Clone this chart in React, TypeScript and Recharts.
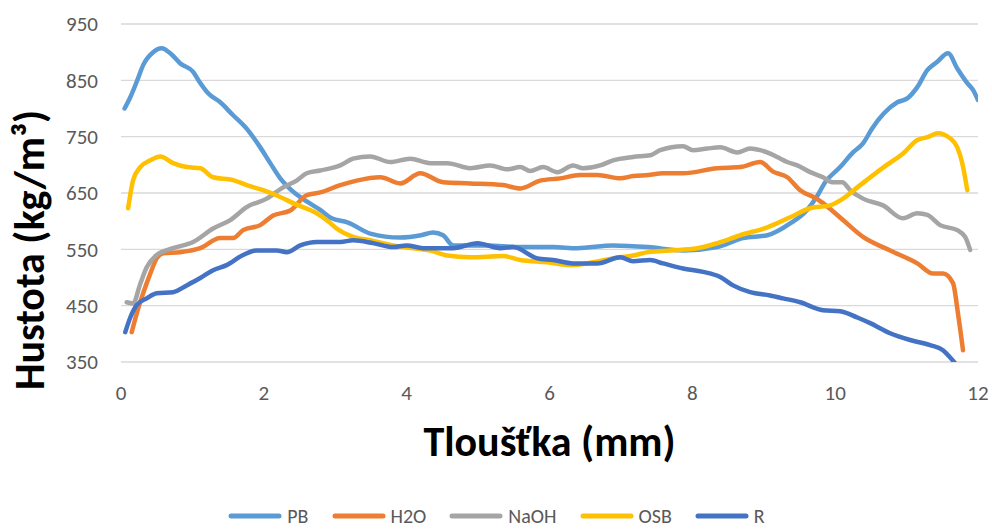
import React from 'react';
import { LineChart, Line, XAxis, YAxis, CartesianGrid, Legend } from 'recharts';

const FONT = 'Carlito, Lato, "Open Sans", sans-serif';

const X_TICKS = [0, 2, 4, 6, 8, 10, 12];
const Y_TICKS = [350, 450, 550, 650, 750, 850, 950];

const PB: number[][] = [
  [0.05, 800], [0.13, 820], [0.24, 854], [0.31, 877], [0.45, 900], [0.57, 907], [0.69, 898],
  [0.83, 880], [1.01, 865], [1.1, 847], [1.22, 827], [1.39, 811], [1.57, 788], [1.74, 767],
  [1.95, 731], [2.09, 703], [2.23, 676], [2.37, 657], [2.6, 635], [2.79, 620], [2.95, 605],
  [3.17, 598], [3.49, 578], [3.91, 571], [4.2, 575], [4.37, 580], [4.51, 575], [4.65, 557],
  [5.12, 557], [5.59, 554], [6.05, 554], [6.39, 552], [6.89, 557], [7.38, 554], [7.87, 548],
  [8.35, 554], [8.71, 570], [9.05, 575], [9.37, 596], [9.6, 619], [9.74, 643], [9.86, 669],
  [10.07, 696], [10.25, 722], [10.39, 738], [10.52, 765], [10.68, 791], [10.87, 811],
  [11.01, 818], [11.15, 838], [11.29, 868], [11.43, 883], [11.58, 898], [11.71, 871],
  [11.85, 845], [11.93, 833], [12.0, 815],
];

const H2O: number[][] = [
  [0.15, 403], [0.22, 436], [0.31, 472], [0.41, 507], [0.5, 534], [0.59, 543], [0.83, 545],
  [1.11, 552], [1.39, 570], [1.57, 570], [1.71, 584], [1.95, 593], [2.13, 610], [2.37, 619],
  [2.6, 646], [2.79, 651], [3.07, 664], [3.3, 672], [3.63, 678], [3.91, 667], [4.19, 685],
  [4.51, 669], [4.89, 667], [5.35, 664], [5.59, 658], [5.87, 672], [6.15, 676], [6.43, 682],
  [6.67, 682], [6.99, 676], [7.17, 680], [7.38, 682], [7.59, 685], [7.87, 685], [8.35, 694],
  [8.67, 696], [8.95, 705], [9.13, 688], [9.33, 678], [9.51, 655], [9.74, 640], [9.83, 632],
  [10.11, 602], [10.39, 572], [10.77, 548], [11.15, 525], [11.37, 507], [11.51, 507],
  [11.65, 490], [11.72, 436], [11.79, 371],
];

const NAOH: number[][] = [
  [0.08, 456], [0.17, 454], [0.27, 489], [0.36, 518], [0.5, 540], [0.73, 552], [1.01, 563],
  [1.29, 587], [1.53, 602], [1.76, 625], [2.04, 640], [2.27, 660], [2.46, 672], [2.6, 685],
  [2.79, 690], [3.07, 699], [3.25, 711], [3.49, 715], [3.77, 705], [4.05, 711], [4.33, 703],
  [4.57, 703], [4.89, 694], [5.17, 699], [5.41, 692], [5.59, 696], [5.73, 689], [5.91, 696],
  [6.11, 687], [6.33, 699], [6.47, 694], [6.71, 699], [6.89, 708], [7.17, 714], [7.41, 717],
  [7.55, 726], [7.87, 733], [8.01, 726], [8.21, 729], [8.39, 731], [8.63, 722], [8.81, 729],
  [8.95, 726], [9.09, 720], [9.33, 705], [9.47, 699], [9.65, 687], [9.83, 678], [9.96, 669],
  [10.1, 669], [10.21, 655], [10.39, 640], [10.67, 628], [10.95, 605], [11.15, 614],
  [11.29, 611], [11.47, 593], [11.71, 584], [11.82, 572], [11.89, 549],
];

const OSB: number[][] = [
  [0.1, 623], [0.17, 673], [0.27, 696], [0.41, 708], [0.55, 715], [0.73, 703], [0.92, 696],
  [1.11, 694], [1.29, 678], [1.57, 673], [1.76, 664], [1.99, 655], [2.23, 643], [2.41, 632],
  [2.74, 614], [2.9, 600], [3.02, 587], [3.25, 572], [3.49, 566], [3.81, 557], [4.09, 552],
  [4.33, 548], [4.57, 539], [4.89, 536], [5.35, 538], [5.59, 531], [5.97, 527], [6.29, 522],
  [6.61, 527], [6.89, 534], [7.17, 539], [7.38, 545], [7.69, 548], [8.07, 552], [8.35, 561],
  [8.67, 575], [9.05, 589], [9.37, 607], [9.65, 623], [9.93, 628], [10.11, 640], [10.31, 660],
  [10.68, 696], [10.95, 720], [11.15, 744], [11.29, 749], [11.44, 756], [11.61, 747],
  [11.71, 731], [11.78, 703], [11.85, 655],
];

const R: number[][] = [
  [0.06, 403], [0.13, 429], [0.22, 451], [0.36, 463], [0.5, 472], [0.73, 474], [0.92, 486],
  [1.11, 499], [1.29, 513], [1.48, 522], [1.71, 540], [1.9, 548], [2.18, 548], [2.32, 545],
  [2.51, 557], [2.74, 563], [3.07, 563], [3.25, 566], [3.53, 561], [3.81, 554], [4.0, 557],
  [4.23, 552], [4.65, 552], [4.99, 561], [5.31, 552], [5.49, 554], [5.83, 534], [6.05, 531],
  [6.33, 525], [6.67, 525], [6.99, 536], [7.17, 529], [7.41, 531], [7.59, 525], [7.87, 516],
  [8.15, 510], [8.39, 501], [8.57, 486], [8.81, 474], [9.09, 468], [9.27, 463], [9.51, 456],
  [9.83, 442], [10.07, 440], [10.31, 429], [10.49, 419], [10.77, 401], [11.05, 389],
  [11.33, 380], [11.51, 371], [11.61, 358], [11.68, 348],
];

const SERIES = [
  { name: 'PB', color: '#5B9BD5', points: PB },
  { name: 'H2O', color: '#ED7D31', points: H2O },
  { name: 'NaOH', color: '#A5A5A5', points: NAOH },
  { name: 'OSB', color: '#FFC000', points: OSB },
  { name: 'R', color: '#4472C4', points: R },
];

const XTitle = (props: any) => {
  const vb = props.viewBox || { x: 0, y: 0, width: 0, height: 0 };
  return (
    <text
      x={vb.x + vb.width / 2}
      y={vb.y + 94}
      textAnchor="middle"
      fontFamily={FONT}
      fontWeight="bold"
      fontSize={42}
      fill="#000"
    >
      Tloušťka (mm)
    </text>
  );
};

const YTitle = (props: any) => {
  const vb = props.viewBox || { x: 0, y: 0, width: 0, height: 0 };
  const cx = vb.x + 44;
  const cy = vb.y + vb.height / 2 + 57;
  return (
    <text
      x={cx}
      y={cy}
      transform={`rotate(-90 ${cx} ${cy})`}
      textAnchor="middle"
      fontFamily={FONT}
      fontWeight="bold"
      fontSize={42}
      fill="#000"
    >
      Hustota (kg/m³)
    </text>
  );
};

const renderLegend = () => (
  <div
    style={{
      display: 'flex',
      justifyContent: 'center',
      alignItems: 'center',
      height: 28,
      fontFamily: FONT,
      fontSize: 20,
      color: '#595959',
      lineHeight: '22px',
    }}
  >
    {SERIES.map((s) => (
      <div key={s.name} style={{ display: 'flex', alignItems: 'center', margin: '0 11px' }}>
        <svg width={56} height={8} style={{ display: 'block' }}>
          <line x1={4} y1={4} x2={52} y2={4} stroke={s.color} strokeWidth={5} strokeLinecap="round" />
        </svg>
        <span style={{ marginLeft: 4 }}>{s.name}</span>
      </div>
    ))}
  </div>
);

export default function App() {
  return (
    <div style={{ position: 'absolute', left: 0, top: 0, width: 992, height: 531, background: '#fff' }}>
      <LineChart width={992} height={531} margin={{ top: 24, right: 14, bottom: 1, left: 0 }}>
        <CartesianGrid horizontal vertical={false} stroke="#D9D9D9" strokeWidth={1.3} />
        <XAxis
          type="number"
          dataKey="x"
          domain={[0, 12]}
          ticks={X_TICKS}
          allowDataOverflow
          height={140}
          axisLine={false}
          tickLine={false}
          tickMargin={17}
          tick={{ fill: '#595959', fontSize: 21, fontFamily: FONT }}
          label={<XTitle />}
        />
        <YAxis
          type="number"
          domain={[350, 950]}
          ticks={Y_TICKS}
          allowDataOverflow
          width={121}
          axisLine={false}
          tickLine={false}
          tickMargin={17}
          tick={{ fill: '#595959', fontSize: 21, fontFamily: FONT }}
          label={<YTitle />}
        />
        <Legend verticalAlign="bottom" content={renderLegend} wrapperStyle={{ left: 0, width: 992 }} />
        {SERIES.map((s) => (
          <Line
            key={s.name}
            name={s.name}
            data={s.points.map(([x, y]) => ({ x, y }))}
            dataKey="y"
            type="monotone"
            stroke={s.color}
            strokeWidth={4.5}
            strokeLinejoin="round"
            strokeLinecap="round"
            dot={false}
            activeDot={false}
            isAnimationActive={false}
          />
        ))}
      </LineChart>
    </div>
  );
}
